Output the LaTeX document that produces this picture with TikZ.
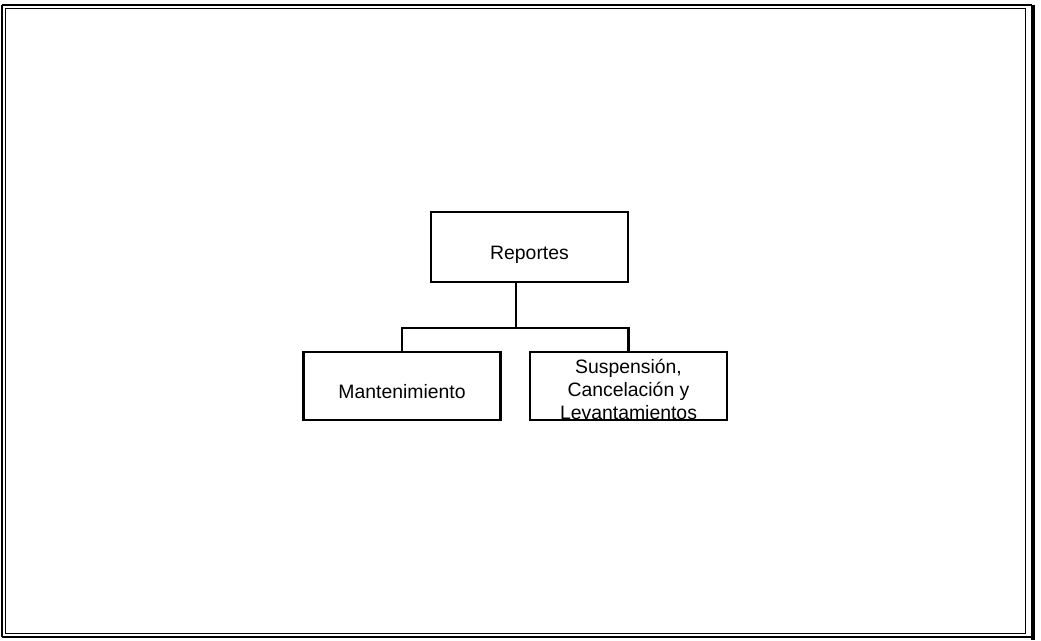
\documentclass[tikz,border=0pt]{standalone}
\usepackage{fontspec}
\setmainfont{Liberation Sans}
\usetikzlibrary{calc}

\begin{document}
\begin{tikzpicture}[x=1pt,y=-1pt,
  box/.style={draw=black,line width=2.8pt,minimum width=197pt,minimum height=68pt,inner sep=0pt},
  txt/.style={font=\fontsize{19.4}{23}\selectfont,inner sep=0pt,align=center},
  link/.style={line width=2.8pt,line cap=rect}]
\useasboundingbox (0,0) rectangle (1041,640);

% frame
\draw[line width=2.5pt] (2,5) -- (1032,5);
\draw[line width=2.5pt] (2,5) -- (2,637);
\draw[line width=2.5pt] (2,637) -- (1032,637);
\draw[line width=4pt] (1033,5) -- (1033,640);
\draw[line width=1pt] (5.5,8.5) rectangle (1025.5,633.5);

% boxes
\node[box,minimum height=70pt] (rep) at (529.5,247) {};
\node[box] (man) at (402,386) {};
\node[box] (sus) at (628.5,386) {};

\node[txt,anchor=base] (reptxt) at (529.5,259) {Reportes};
\node[txt,anchor=base] (mantxt) at (402,398) {Mantenimiento};
\node[txt,anchor=base] (sustxt) at (628.5,419)
  {Suspensión,\\Cancelación y\\Levantamientos};

% connectors
\coordinate (bar) at (516,328);
\draw[link] (rep.south -| bar) -- (bar);
\draw[link] (man.north) -- (man.north |- bar) -- (sus.north |- bar) -- (sus.north);
\end{tikzpicture}
\end{document}
